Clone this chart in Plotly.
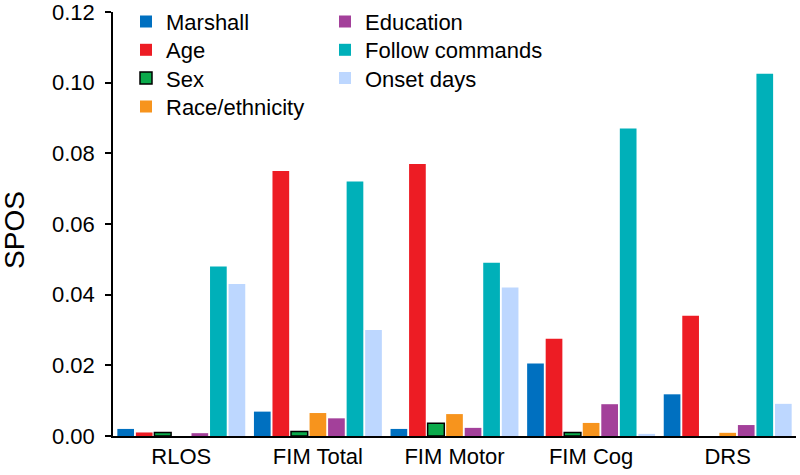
import plotly.graph_objects as go

categories = ["RLOS", "FIM Total", "FIM Motor", "FIM Cog", "DRS"]
series_names = ["Marshall", "Age", "Sex", "Race/ethnicity", "Education", "Follow commands", "Onset days"]

marshall = [0.0020, 0.0069, 0.0020, 0.0205, 0.0118]
age = [0.0010, 0.0750, 0.0770, 0.0275, 0.0340]
sex = [0.0010, 0.0013, 0.0036, 0.0010, None]
race = [None, 0.0065, 0.0062, 0.0037, 0.0009]
education = [0.0008, 0.0050, 0.0023, 0.0090, 0.0031]
follow_commands = [0.0480, 0.0720, 0.0490, 0.0870, 0.1025]
onset_days = [0.0430, 0.0300, 0.0420, 0.0006, 0.0091]

series_values = [marshall, age, sex, race, education, follow_commands, onset_days]
colors = ["#0070C0", "#ED1C24", "#0BAA4B", "#F7941D", "#A3409A", "#00B0B9", "#BDD7FF"]
line_widths = [0, 0, 1.5, 0, 0, 0, 0]

tick_vals = [0.0, 0.02, 0.04, 0.06, 0.08, 0.10, 0.12]
tick_text = ["0.00\u00a0", "0.02\u00a0", "0.04\u00a0", "0.06\u00a0", "0.08\u00a0", "0.10\u00a0", "0.12\u00a0"]
y_title = "SPOS"

FONT = "Arial, Liberation Sans, sans-serif"
W, H = 800, 475

# legend placement (one legend per entry, two columns)
legend_cols = [0, 0, 0, 0, 1, 1, 1]
legend_rows = [0, 1, 2, 3, 0, 1, 2]
col_left_px = [126, 325]
row_center_px = [21.7, 50.0, 78.3, 106.7]

fig = go.Figure()
layout_legends = {}
for i, (name, vals, col, lw) in enumerate(zip(series_names, series_values, colors, line_widths)):
    lid = f"legend{i + 2}"
    fig.add_trace(go.Bar(
        x=categories, y=vals, name=name,
        marker=dict(color=col, line=dict(color="black", width=lw)),
        legend=lid,
    ))
    layout_legends[lid] = dict(
        font=dict(family=FONT, size=22, color="black"),
        bgcolor="rgba(0,0,0,0)", borderwidth=0,
        xref="container", yref="container",
        x=col_left_px[legend_cols[i]] / W,
        y=1 - row_center_px[legend_rows[i]] / H,
        xanchor="left", yanchor="middle",
    )

fig.update_layout(
    width=W, height=H,
    margin=dict(l=113, r=4, t=12, b=39, autoexpand=False),
    paper_bgcolor="white", plot_bgcolor="white",
    showlegend=True,
    barmode="group", bargap=0.05, bargroupgap=0.1,
    font=dict(family=FONT, size=22, color="black"),
    xaxis=dict(
        showline=True, linecolor="black", linewidth=1.5,
        ticks="", showgrid=False,
        tickfont=dict(family=FONT, size=22, color="black"),
    ),
    yaxis=dict(
        range=[0, 0.12], tickvals=tick_vals, ticktext=tick_text,
        showline=True, linecolor="black", linewidth=1.5,
        ticks="outside", ticklen=6, tickwidth=1.5, tickcolor="black",
        ticklabeloverflow="allow",
        showgrid=False, zeroline=False,
        tickfont=dict(family=FONT, size=22, color="black"),
    ),
    annotations=[dict(
        text=y_title, textangle=-90, showarrow=False,
        xref="paper", yref="paper", x=-0.1435, y=0.486,
        xanchor="center", yanchor="middle",
        font=dict(family=FONT, size=28, color="black"),
    )],
    **layout_legends,
)

fig.write_html("out.html", config={"displayModeBar": False},
               post_script="document.body.style.margin='0';")
